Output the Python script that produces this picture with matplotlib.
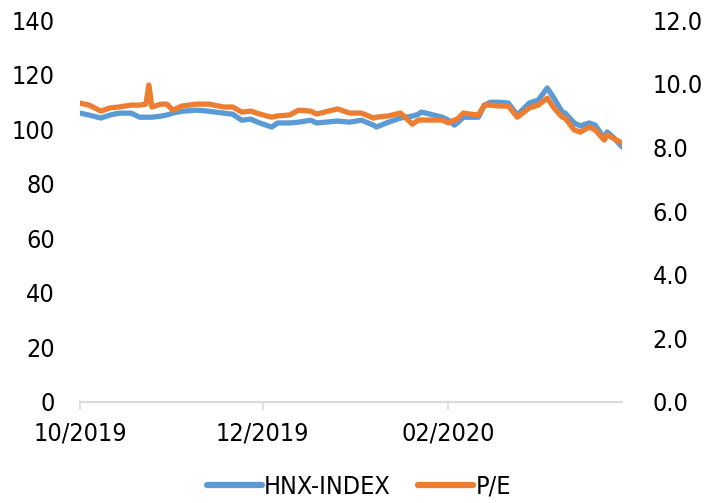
import matplotlib
matplotlib.use("Agg")
import matplotlib.pyplot as plt
import matplotlib.dates as mdates
import pandas as pd
from matplotlib.ticker import FormatStrFormatter

plt.rcParams['font.family'] = ['DejaVu Sans']
plt.rcParams['font.stretch'] = 'condensed'

dates = ["2019-10-01", "2019-10-04", "2019-10-08", "2019-10-11", "2019-10-14", "2019-10-18",
         "2019-10-21", "2019-10-23", "2019-10-24", "2019-10-25", "2019-10-28", "2019-10-30",
         "2019-11-01", "2019-11-04", "2019-11-09", "2019-11-13", "2019-11-18", "2019-11-21",
         "2019-11-24", "2019-11-27", "2019-11-30", "2019-12-04", "2019-12-06", "2019-12-10",
         "2019-12-13", "2019-12-17", "2019-12-19", "2019-12-26", "2019-12-30", "2020-01-03",
         "2020-01-07", "2020-01-08", "2020-01-12", "2020-01-16", "2020-01-20", "2020-01-22",
         "2020-01-23", "2020-01-30", "2020-02-01", "2020-02-03", "2020-02-04", "2020-02-06",
         "2020-02-08", "2020-02-11", "2020-02-13", "2020-02-15", "2020-02-18", "2020-02-21",
         "2020-02-24", "2020-02-28", "2020-03-02", "2020-03-05", "2020-03-07", "2020-03-10",
         "2020-03-11", "2020-03-14", "2020-03-16", "2020-03-19", "2020-03-21", "2020-03-24",
         "2020-03-25", "2020-03-27", "2020-03-30"]

hnx_index = [105.9, 105.2, 104.1, 105.2, 105.9, 105.9,
             104.4, 104.4, 104.4, 104.4, 104.8, 105.2,
             105.9, 106.6, 107.0, 106.6, 105.9, 105.5,
             103.3, 103.7, 102.3, 100.8, 102.3, 102.3,
             102.6, 103.3, 102.3, 103.0, 102.6, 103.3,
             101.5, 100.8, 102.6, 104.1, 104.8, 105.5,
             106.3, 104.4, 103.3, 101.5, 102.3, 104.4,
             104.4, 104.4, 108.8, 109.9, 109.9, 109.6,
             105.2, 109.6, 110.7, 115.1, 111.8, 106.3,
             105.9, 102.3, 101.2, 102.3, 101.5, 96.8,
             99.0, 97.1, 93.5]

pe_ratio = [9.39, 9.33, 9.14, 9.24, 9.27, 9.33,
            9.33, 9.36, 9.96, 9.27, 9.36, 9.36,
            9.17, 9.30, 9.36, 9.36, 9.27, 9.27,
            9.11, 9.14, 9.05, 8.95, 8.99, 9.02,
            9.17, 9.14, 9.05, 9.21, 9.08, 9.08,
            8.92, 8.95, 8.99, 9.08, 8.73, 8.86,
            8.86, 8.86, 8.77, 8.86, 8.89, 9.08,
            9.05, 9.02, 9.33, 9.33, 9.30, 9.30,
            8.95, 9.24, 9.33, 9.55, 9.27, 8.95,
            8.92, 8.55, 8.48, 8.64, 8.55, 8.23,
            8.39, 8.29, 8.14]

left_ticks = [0, 20, 40, 60, 80, 100, 120, 140]
right_ticks = [0.0, 2.0, 4.0, 6.0, 8.0, 10.0, 12.0]
x_tick_dates = ["2019-10-01", "2019-12-01", "2020-02-01"]

d = pd.to_datetime(dates)
blue = "#5B9BD5"
orange = "#ED7D31"
fs = 18

fig = plt.figure(figsize=(7.11, 5.03), dpi=100)
ax = fig.add_axes([0.1125, 0.2008, 0.7625, 0.7592])
ax2 = ax.twinx()

l1, = ax.plot(d, hnx_index, color=blue, lw=3.8, solid_capstyle='round', label="HNX-INDEX", zorder=2)
l2, = ax2.plot(d, pe_ratio, color=orange, lw=3.8, solid_capstyle='round', label="P/E", zorder=3)

ax.set_ylim(0, 140)
ax.set_yticks(left_ticks)
ax2.set_ylim(0, 12)
ax2.set_yticks(right_ticks)
ax2.yaxis.set_major_formatter(FormatStrFormatter('%.1f'))

ax.set_xlim(pd.Timestamp(dates[0]), pd.Timestamp(dates[-1]))
ax.set_xticks(pd.to_datetime(x_tick_dates))
ax.xaxis.set_major_formatter(mdates.DateFormatter('%m/%Y'))

for a in (ax, ax2):
    for s in ('top', 'left', 'right'):
        a.spines[s].set_visible(False)
    a.spines['bottom'].set_color('#d9d9d9')
    a.spines['bottom'].set_linewidth(1.2)
    a.tick_params(axis='y', length=0, labelsize=fs)
ax.tick_params(axis='x', length=6, width=1.2, color='#d9d9d9', labelsize=fs, pad=8)
ax.tick_params(axis='y', pad=18)
ax2.tick_params(axis='y', pad=22)

leg = fig.legend([l1, l2], ["HNX-INDEX", "P/E"], loc='lower center', bbox_to_anchor=(0.505, -0.036),
                 ncol=2, frameon=False, fontsize=fs, handlelength=2.2, handletextpad=0.1,
                 columnspacing=1.1)
for h in leg.legend_handles:
    h.set_linewidth(4.5)

fig.savefig("out.png", dpi=100)
